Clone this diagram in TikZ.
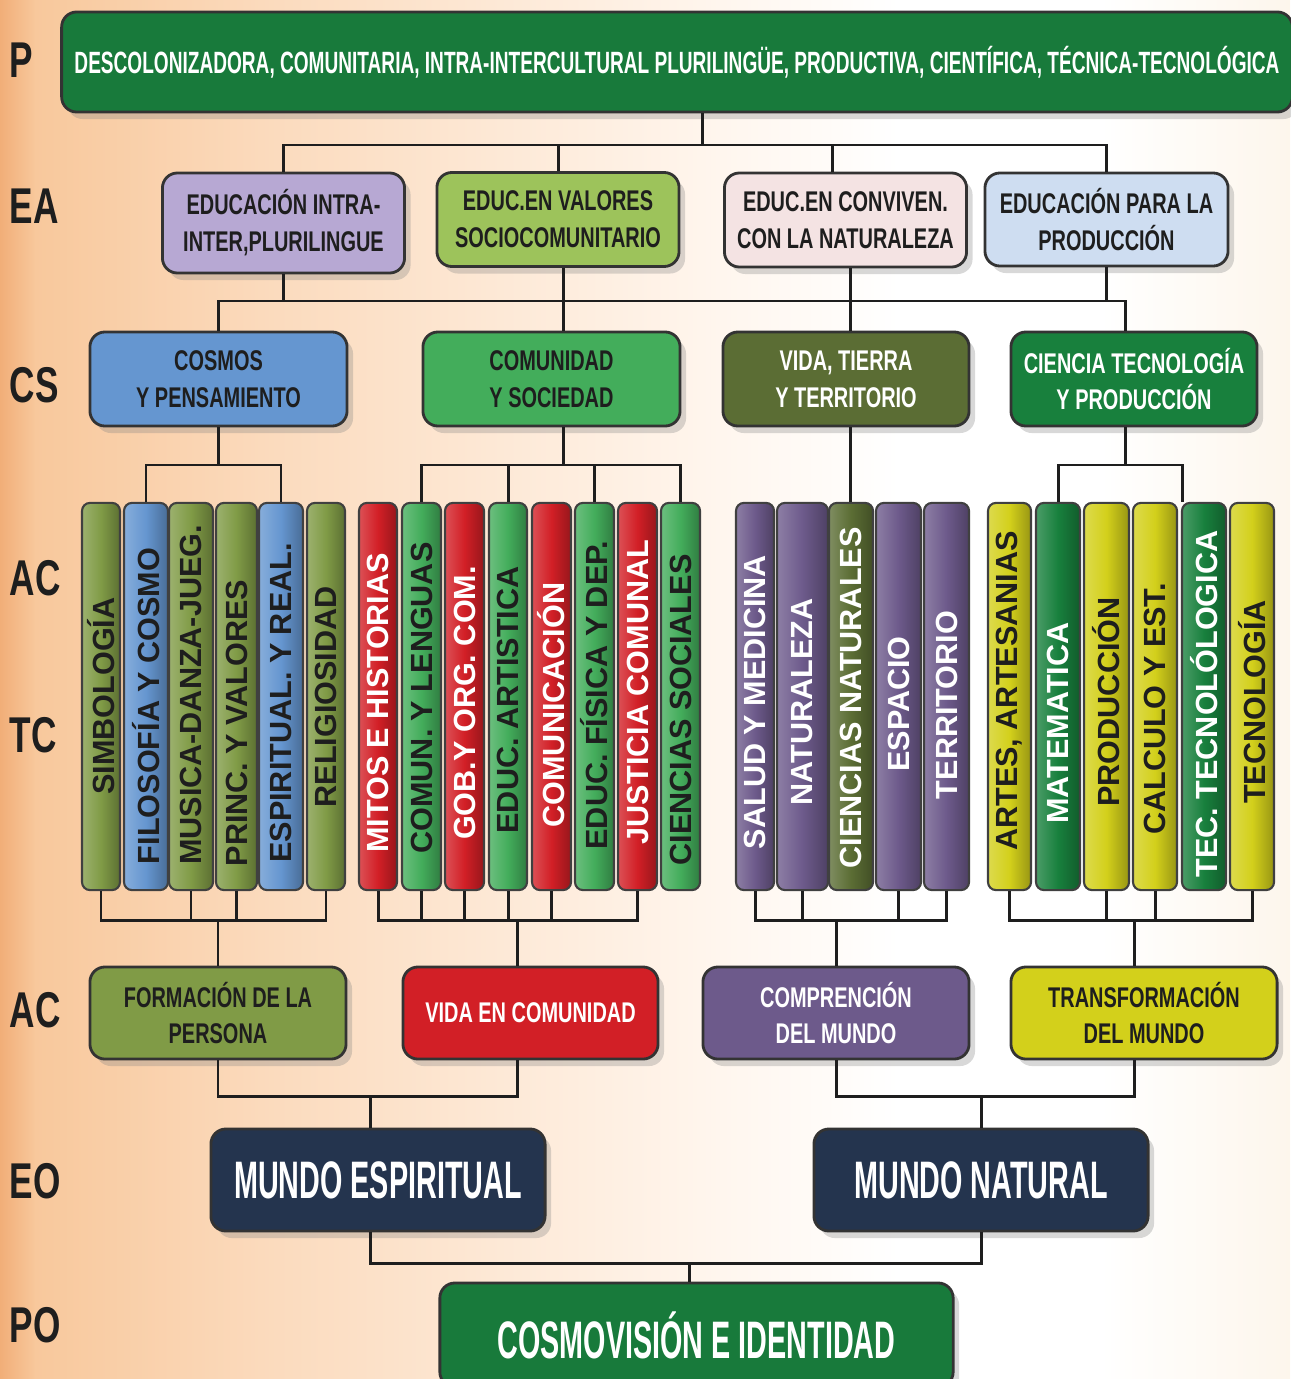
\documentclass[tikz,border=0pt]{standalone}
\usepackage{fontspec}
\setmainfont{Liberation Sans}
\newfontfamily\boxfont[FakeStretch=0.70]{Liberation Sans Bold}
\newfontfamily\topfont[FakeStretch=0.62]{Liberation Sans Bold}
\newfontfamily\bigfont[FakeStretch=0.545]{Liberation Sans Bold}
\newfontfamily\lblfont[FakeStretch=0.70]{Liberation Sans Bold}
\usetikzlibrary{shadows,positioning}

\definecolor{ink}{HTML}{1E1E1E}
\definecolor{pgreen}{HTML}{187A3B}
\definecolor{lav}{HTML}{B7A8D3}
\definecolor{lgreen}{HTML}{9DC35B}
\definecolor{lpink}{HTML}{F4E3E3}
\definecolor{lblue}{HTML}{CEDDF1}
\definecolor{cblue}{HTML}{6596D0}
\definecolor{cgreen}{HTML}{43AD5B}
\definecolor{colive}{HTML}{5B6D34}
\definecolor{cdgreen}{HTML}{18803D}
\definecolor{aolive}{HTML}{809B46}
\definecolor{ared}{HTML}{D21F26}
\definecolor{apurple}{HTML}{6D5A8B}
\definecolor{ayellow}{HTML}{D3D01B}
\definecolor{navy}{HTML}{24344E}
\definecolor{bgA}{HTML}{F1AE78}
\definecolor{bgB}{HTML}{F8C89C}
\definecolor{bgC}{HTML}{FBDABC}
\definecolor{bgD}{HTML}{FFF5EC}
\definecolor{bgE}{HTML}{FDF6EC}

\tikzset{
  link/.style={draw=ink, line width=0.85pt},
  box/.style={rounded corners=0.15cm, draw=black!80, line width=0.8pt, fill=#1,
    align=center, inner sep=1pt,
    drop shadow={opacity=0.3, shadow xshift=0.06cm, shadow yshift=-0.07cm}},
  midbox/.style={box=#1, font=\boxfont\fontsize{8.1}{10.5}\selectfont, text=ink},
  bigbox/.style={box=#1, font=\bigfont\fontsize{15}{18}\selectfont, text=white},
  colbox/.style={rounded corners=0.08cm, draw=black!75, line width=0.6pt, inner sep=0pt,
    left color=#1!78!white, right color=#1!72!black, middle color=#1,
    minimum height=3.87cm},
  coltext/.style={rotate=90, inner sep=0pt, font=\bfseries\fontsize{8.7}{10}\selectfont},
  lbl/.style={inner sep=0pt, text=ink, font=\lblfont\fontsize{14.3}{16}\selectfont}
}

\begin{document}
\begin{tikzpicture}[x=0.01cm, y=-0.01cm]
  \useasboundingbox (0,0) rectangle (1290,1379);
  \shade[left color=bgA, right color=bgB] (0,0) rectangle (36,1379);
  \shade[left color=bgB, right color=bgC] (35,0) rectangle (261,1379);
  \shade[left color=bgC, right color=bgD] (260,0) rectangle (701,1379);
  \shade[left color=bgD, right color=white] (700,0) rectangle (900,1379);
  \fill[white] (899,0) rectangle (1101,1379);
  \shade[left color=white, right color=bgE] (1100,0) rectangle (1290,1379);

  \foreach \lb/\yy in {P/78, EA/223, CS/402, AC/595, TC/752, AC/1027, EO/1198, PO/1342}
    \node[lbl, anchor=base west] (lab\yy) at (9,\yy) {\lb};

  \node[box=pgreen, minimum width=12.30cm, minimum height=1.0cm, text=white,
    font=\topfont\fontsize{8.75}{10.5}\selectfont] (P) at (677,62)
    {DESCOLONIZADORA, COMUNITARIA, INTRA-INTERCULTURAL PLURILINGÜE, PRODUCTIVA, CIENTÍFICA, TÉCNICA-TECNOLÓGICA};

  \node[midbox=lav, minimum width=2.42cm, minimum height=1.0cm] (ea1) at (283.5,223) {EDUCACIÓN INTRA-\\INTER,PLURILINGUE};
  \node[midbox=lgreen, minimum width=2.42cm, minimum height=0.94cm] (ea2) at (558,219.5) {EDUC.EN VALORES\\SOCIOCOMUNITARIO};
  \node[midbox=lpink, minimum width=2.42cm, minimum height=0.94cm] (ea3) at (845.5,220) {EDUC.EN CONVIVEN.\\CON LA NATURALEZA};
  \node[midbox=lblue, minimum width=2.43cm, minimum height=0.93cm] (ea4) at (1106.5,219.5) {EDUCACIÓN PARA LA\\PRODUCCIÓN};

  \node[midbox=cblue, minimum width=2.57cm, minimum height=0.94cm] (cs1) at (218.5,379) {COSMOS\\Y PENSAMIENTO};
  \node[midbox=cgreen, minimum width=2.57cm, minimum height=0.94cm] (cs2) at (551.5,379) {COMUNIDAD\\Y SOCIEDAD};
  \node[midbox=colive, minimum width=2.46cm, minimum height=0.94cm, text=white] (cs3) at (846,379) {VIDA, TIERRA\\Y TERRITORIO};
  \node[midbox=cdgreen, minimum width=2.46cm, minimum height=0.94cm, text=white] (cs4) at (1134,379) {CIENCIA TECNOLOGÍA\\Y PRODUCCIÓN};

  \foreach \nm/\xc/\w/\cc/\tc/\ty/\lab in {
      g1a/101/38/aolive/ink/696/SIMBOLOGÍA,
      g1b/146/44/cblue/ink/706/FILOSOFÍA Y COSMO,
      g1c/191/44/aolive/ink/695/MUSICA-DANZA-JUEG.,
      g1d/236.5/41/aolive/ink/723/PRINC. Y VALORES,
      g1e/281/44/cblue/ink/703/ESPIRITUAL. Y REAL.,
      g1f/326/38/aolive/ink/697/RELIGIOSIDAD,
      g2a/378/38/ared/white/703/MITOS E HISTORIAS,
      g2b/421.5/39/cgreen/ink/698/COMUN. Y LENGUAS,
      g2c/464.5/39/ared/white/703/GOB.Y ORG. COM.,
      g2d/508/38/cgreen/ink/700/EDUC. ARTISTICA,
      g2e/551.5/39/ared/white/705/COMUNICACIÓN,
      g2f/594.5/39/cgreen/ink/695/EDUC. FÍSICA Y DEP.,
      g2g/637.5/39/ared/white/692/JUSTICIA COMUNAL,
      g2h/680.5/39/cgreen/ink/710/CIENCIAS SOCIALES,
      g3a/755/38/apurple/white/702/SALUD Y MEDICINA,
      g3b/802.5/51/apurple/white/702/NATURALEZA,
      g3c/851/44/colive/white/698/CIENCIAS NATURALES,
      g3d/898.5/45/apurple/white/704/ESPACIO,
      g3e/946.5/45/apurple/white/705/TERRITORIO,
      g4a/1009.5/43/ayellow/ink/691/{ARTES, ARTESANIAS},
      g4b/1058/44/cdgreen/white/723/MATEMATICA,
      g4c/1106.5/45/ayellow/ink/702/PRODUCCIÓN,
      g4d/1155/44/ayellow/ink/709/CALCULO Y EST.,
      g4e/1204/44/cdgreen/white/704/TEC. TECNOLÓLOGICA,
      g4f/1252/44/ayellow/ink/702/TECNOLOGÍA}
  {
    \node[colbox=\cc, minimum width=\w*0.01cm] (\nm) at (\xc,696.5) {};
    \node[coltext, text=\tc] (\nm-t) at (\xc,\ty) {\lab};
  }

  \node[midbox=aolive, minimum width=2.56cm, minimum height=0.92cm] (ac1) at (218,1013) {FORMACIÓN DE LA\\PERSONA};
  \node[midbox=ared, minimum width=2.55cm, minimum height=0.92cm, text=white] (ac2) at (530.5,1013) {VIDA EN COMUNIDAD};
  \node[midbox=apurple, minimum width=2.66cm, minimum height=0.92cm, text=white] (ac3) at (836,1013) {COMPRENCIÓN\\DEL MUNDO};
  \node[midbox=ayellow, minimum width=2.66cm, minimum height=0.92cm] (ac4) at (1144,1013) {TRANSFORMACIÓN\\DEL MUNDO};

  \node[bigbox=navy, minimum width=3.34cm, minimum height=1.02cm] (eo1) at (378,1180) {MUNDO ESPIRITUAL};
  \node[bigbox=navy, minimum width=3.34cm, minimum height=1.02cm] (eo2) at (981,1180) {MUNDO NATURAL};
  \node[bigbox=pgreen, minimum width=5.13cm, minimum height=1.04cm] (po) at (696.5,1335) {COSMOVISIÓN E IDENTIDAD};

  \coordinate (busP) at (702,145);
  \coordinate (k1) at (832,145);
  \coordinate (k2) at (563,301);
  \coordinate (k3) at (850,301);
  \coordinate (k4) at (1125,301);
  \coordinate (busC) at (0,465);
  \coordinate (k5) at (1182,465);
  \coordinate (busT) at (0,920);
  \coordinate (k6) at (517,1096);
  \coordinate (k7) at (1134,1096);
  \coordinate (k8) at (370,1096);
  \coordinate (k9) at (689,1263);

  \draw[link] (P.south -| busP) -- (busP);
  \draw[link] (ea1.north) |- (ea4.north |- busP) -- (ea4.north);
  \draw[link] (ea2.north) -- (ea2.north |- busP);
  \draw[link] (ea3.north -| k1) -- (k1);

  \draw[link] (cs1.north) |- (k4) -- (cs4.north -| k4);
  \draw[link] (ea1.south) -- (ea1.south |- k4);
  \draw[link] (ea2.south -| k2) -- (cs2.north -| k2);
  \draw[link] (ea3.south -| k3) -- (cs3.north -| k3);
  \draw[link] (ea4.south) -- (ea4.south |- k4);

  \draw[link] (cs1.south) -- (cs1.south |- busC);
  \draw[link] (g1b.north) |- (g1e.north |- busC) -- (g1e.north);
  \draw[link] (cs2.south -| k2) -- (k2 |- busC);
  \draw[link] (g2b.north) |- (g2h.north |- busC) -- (g2h.north);
  \foreach \c in {g2d,g2f}
    \draw[link] (\c.north) -- (\c.north |- busC);
  \draw[link] (cs3.south -| k3) -- (g3c.north -| k3);
  \draw[link] (cs4.south -| k4) -- (k4 |- busC);
  \draw[link] (g4b.north) |- (k5) -- (g4e.north -| k5);

  \draw[link] (g1a.south) |- (g1f.south |- busT) -- (g1f.south);
  \foreach \c in {g1c,g1d}
    \draw[link] (\c.south) -- (\c.south |- busT);
  \draw[link] (ac1.north) -- (ac1.north |- busT);
  \draw[link] (g2a.south) |- (g2g.south |- busT) -- (g2g.south);
  \foreach \c in {g2b,g2c,g2d,g2e}
    \draw[link] (\c.south) -- (\c.south |- busT);
  \draw[link] (ac2.north -| k6) -- (k6 |- busT);
  \draw[link] (g3a.south) |- (g3e.south |- busT) -- (g3e.south);
  \foreach \c in {g3b,g3d}
    \draw[link] (\c.south) -- (\c.south |- busT);
  \draw[link] (ac3.north) -- (ac3.north |- busT);
  \draw[link] (g4a.south) |- (g4f.south |- busT) -- (g4f.south);
  \foreach \c in {g4c,g4d}
    \draw[link] (\c.south) -- (\c.south |- busT);
  \draw[link] (ac4.north -| k7) -- (k7 |- busT);

  \draw[link] (ac1.south) |- (k6) -- (ac2.south -| k6);
  \draw[link] (k8) -- (eo1.north -| k8);
  \draw[link] (ac3.south) |- (k7) -- (ac4.south -| k7);
  \draw[link] (eo2.north) -- (eo2.north |- k7);

  \draw[link] (eo1.south -| k8) |- (k9) -| (eo2.south);
  \draw[link] (k9) -- (po.north -| k9);
\end{tikzpicture}
\end{document}
